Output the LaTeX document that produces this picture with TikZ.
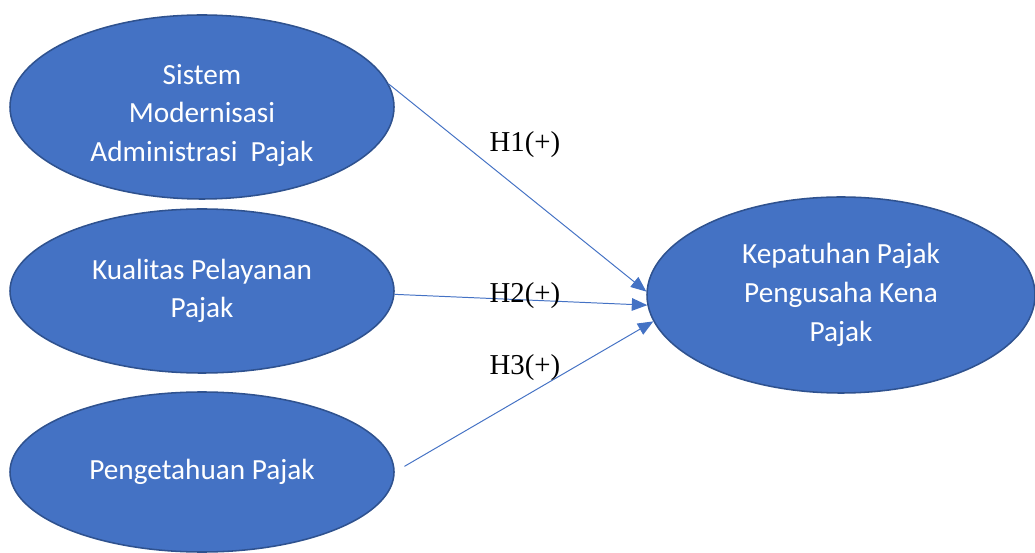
\documentclass[tikz,border=0pt]{standalone}
\usepackage{fontspec}
\setmainfont{Carlito}
\newfontfamily\hfont{Liberation Serif}
\usepackage{tikz}
\usetikzlibrary{positioning,arrows.meta,shapes.geometric,calc}
\definecolor{bleu}{RGB}{68,114,196}
\definecolor{bleufonce}{RGB}{47,82,143}

\tikzset{
    varbox/.style={ellipse,fill=bleu,draw=bleufonce,line width=1.1pt,inner sep=0pt,
        text=white,align=center,font=\fontsize{20.8}{27.5}\selectfont},
    fleche/.style={-{Triangle[length=11pt,width=9pt]},draw=bleu,line width=0.7pt},
    hyp/.style={font=\hfont\fontsize{20.5}{22}\selectfont}
}

\begin{document}
\begin{tikzpicture}
    \useasboundingbox (0,0) rectangle (25.875,13.8);

    % Variables indépendantes
    \node[varbox,minimum width=9.6cm,minimum height=4.6cm] (sis) at (5.05,11.125)
        {\rule{0pt}{26pt}Sistem\\Modernisasi\\Administrasi\ \ Pajak};
    \node[varbox,minimum width=9.6cm,minimum height=4.1cm] (kual) at (5.05,6.525)
        {Kualitas Pelayanan\\Pajak};
    \node[varbox,minimum width=9.6cm,minimum height=4.0cm] (peng) at (5.05,2.0)
        {Pengetahuan Pajak};

    % Variable dépendante
    \node[varbox,minimum width=9.7cm,minimum height=4.9cm] (kep) at (21.025,6.425)
        {Kepatuhan Pajak\\Pengusaha Kena\\Pajak};

    % Flèches
    \draw[fleche] (sis.7) -- (kep.179);
    \draw[fleche] (kual.-1) -- (kep.183);
    \draw[fleche,shorten <=8pt] (peng.0) -- (kep.188);

    % Hypothèses
    \node[hyp] (h1) at (13.125,10.175) {H1(+)};
    \node[hyp] (h2) at (13.125,6.4) {H2(+)};
    \node[hyp] (h3) at (13.125,4.6) {H3(+)};

\end{tikzpicture}
\end{document}
